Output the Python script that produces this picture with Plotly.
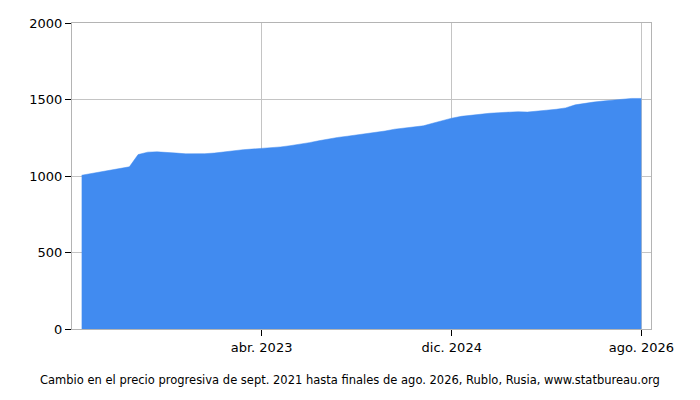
import pandas as pd
import plotly.graph_objects as go

# monthly values, sept. 2021 .. ago. 2026
months = pd.date_range("2021-09-01", "2026-08-01", freq="MS")
values = [
    1005, 1016, 1030, 1040, 1050, 1060, 1140, 1156, 1158, 1156,
    1150, 1145, 1145, 1146, 1150, 1158, 1166, 1172, 1176, 1180,
    1185, 1190, 1198, 1206, 1218, 1230, 1242, 1252, 1260, 1268,
    1276, 1284, 1294, 1306, 1312, 1318, 1328, 1345, 1362, 1378,
    1390, 1398, 1405, 1410, 1414, 1418, 1420, 1418, 1422, 1430,
    1436, 1445, 1465, 1476, 1483, 1490, 1495, 1502, 1507, 1507,
]

x_tick_vals = ["2023-04-01", "2024-12-01", "2026-08-01"]
x_tick_text = ["abr. 2023", "dic. 2024", "ago. 2026"]
y_tick_vals = [0, 500, 1000, 1500, 2000]

caption = ("Cambio en el precio progresiva de sept. 2021 hasta finales de ago. 2026, "
           "Rublo, Rusia, www.statbureau.org")

fig = go.Figure()
fig.add_trace(go.Scatter(
    x=months, y=values, mode="lines", fill="tozeroy",
    line=dict(color="#418bf0", width=0.5),
    fillcolor="#418bf0", hoverinfo="x+y", showlegend=False,
))

# page body has an 8px margin, so the figure is sized/offset for it
fig.update_layout(
    width=684, height=384,
    margin=dict(l=64, r=41, t=8, b=63),
    paper_bgcolor="white", plot_bgcolor="white",
    font=dict(family="DejaVu Sans", size=13, color="#000000"),
    annotations=[dict(
        text=caption, xref="paper", yref="paper", x=0.48, y=-0.166,
        xanchor="center", yanchor="middle", showarrow=False,
        font=dict(size=11.5, color="#000000"),
    )],
)
fig.update_xaxes(
    range=["2021-08-01", "2026-09-01"],
    tickvals=x_tick_vals, ticktext=x_tick_text,
    ticks="outside", ticklen=6, tickcolor="#000000",
    showgrid=True, gridcolor="#c4c4c4", gridwidth=1,
    showline=True, linecolor="#b4b4b4", mirror=True,
    zeroline=False,
)
fig.update_yaxes(
    range=[0, 2000], tickvals=y_tick_vals,
    ticks="outside", ticklen=6, tickcolor="#000000",
    showgrid=True, gridcolor="#c4c4c4", gridwidth=1,
    showline=True, linecolor="#b4b4b4", mirror=True,
    zeroline=False,
)

fig.write_html("out.html")
